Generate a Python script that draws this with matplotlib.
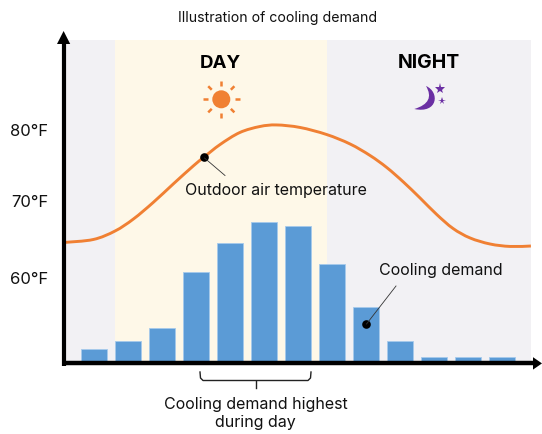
import matplotlib
matplotlib.use("Agg")
import matplotlib.pyplot as plt
from matplotlib.lines import Line2D
from matplotlib.patches import PathPatch, Circle
from matplotlib.path import Path
from matplotlib.transforms import Affine2D

plt.rcParams['font.family'] = ['Inter', 'DejaVu Sans']

# ---- data ----
bar_slots = [0, 1, 2, 3, 4, 5, 6, 7, 8, 9, 10, 11, 12]
cooling_demand = [12, 20, 33, 89, 118, 139, 135, 97, 54, 20, 4, 4, 4]
temp_slots = [-0.88, -0.02, 0.62, 1.16, 1.74, 2.33, 2.92, 3.24, 3.71, 4.29, 4.88, 5.37,
              6.06, 6.84, 7.53, 8.12, 8.61, 9.10, 9.59, 10.08, 10.56, 11.06, 11.65, 12.24, 12.85]
temperature = [64.80, 65.20, 66.35, 67.97, 70.20, 72.70, 75.14, 76.35, 78.04, 79.66, 80.47, 80.68,
               80.34, 79.39, 78.11, 76.55, 74.93, 72.97, 70.81, 68.58, 66.69, 65.41, 64.59, 64.26, 64.32]
ytick_values = [60, 70.4, 80]
ytick_labels = ['60°F', '70°F', '80°F']
day_span = (0.62, 6.85)
temp_marker = (3.24, 76.35)
demand_marker = (8.0, 37)

ORANGE = '#F08033'
BLUE = '#5B9BD6'
PURPLE = '#6B2FA3'
TEXT = '#111111'

fig = plt.figure(figsize=(5.42, 4.34), dpi=100)
pix = Affine2D().scale(1, -1).translate(0, 434)

ax = fig.add_axes([64/542, (434-361)/434, (531-64)/542, (361-40)/434])
ax.set_facecolor('#F2F1F4')
ax.set_xlim(-0.882, 12.853)
ax.set_ylim(48.78, 92.16)
ax.axvspan(*day_span, color='#FEF8E8', lw=0, zorder=0)
for s in ax.spines.values():
    s.set_visible(False)
ax.set_xticks([])
ax.set_yticks(ytick_values, ytick_labels)
ax.tick_params(axis='y', length=0, pad=11.5, labelsize=12, labelcolor=TEXT)

# smooth curve through the read points (Catmull-Rom segments as Bezier)
verts = [(temp_slots[0], temperature[0])]
codes = [Path.MOVETO]
n = len(temp_slots)
for i in range(n-1):
    p0 = (temp_slots[max(i-1, 0)], temperature[max(i-1, 0)])
    p1 = (temp_slots[i], temperature[i])
    p2 = (temp_slots[i+1], temperature[i+1])
    p3 = (temp_slots[min(i+2, n-1)], temperature[min(i+2, n-1)])
    c1 = (p1[0]+(p2[0]-p0[0])/6, p1[1]+(p2[1]-p0[1])/6)
    c2 = (p2[0]-(p3[0]-p1[0])/6, p2[1]-(p3[1]-p1[1])/6)
    verts += [c1, c2, p2]
    codes += [Path.CURVE4]*3
ax.add_patch(PathPatch(Path(verts, codes), fc='none', ec=ORANGE, lw=2.1, zorder=3, capstyle='butt'))
ax.plot(*temp_marker, 'o', color='black', ms=6.2, zorder=5, mew=0)

ax2 = ax.twinx()
ax2.set_ylim(0, 321)
ax2.set_yticks([])
for s in ax2.spines.values():
    s.set_visible(False)
ax2.bar(bar_slots, cooling_demand, width=0.76, color=BLUE, edgecolor='#A6CAEC', linewidth=0.6, zorder=2)
ax2.plot(*demand_marker, 'o', color='black', ms=6.2, zorder=5, mew=0)


def line(xs, ys, color='#333333', lw=0.6, **kw):
    fig.add_artist(Line2D(xs, ys, transform=pix, color=color, lw=lw, **kw))


def txt(x, y, s, size=11.5, weight='normal', **kw):
    fig.text(x, y, s, transform=pix, ha='center', va='center', fontsize=size,
             fontweight=weight, color=kw.pop('color', TEXT), **kw)


# leader lines
line([204.5, 225], [158, 175.5])
line([366.5, 396], [324, 286])

# axis arrows
line([63.6, 63.6], [44, 365.5], color='black', lw=3.0, solid_capstyle='butt')
line([61.5, 535], [363.4, 363.4], color='black', lw=3.2, solid_capstyle='butt')
fig.add_artist(PathPatch(Path([(63.6, 31), (70.2, 44), (57, 44), (63.6, 31)]), fc='black', ec='none', transform=pix))
fig.add_artist(PathPatch(Path([(542, 363.4), (533, 369.6), (533, 357.2), (542, 363.4)]), fc='black', ec='none', transform=pix))

# bracket
line([200, 200.5, 203, 308, 310.5, 311], [372, 378, 380.5, 380.5, 378, 372], color='#222222', lw=1.0)
line([255.7, 255.7], [380.5, 388], color='#222222', lw=1.0)

# texts
txt(277.5, 18, 'Illustration of cooling demand', size=10.2)
txt(220.5, 63, 'DAY', size=13.5, weight='bold', color='black')
txt(429, 63, 'NIGHT', size=14, weight='bold', color='black')
txt(276, 191, 'Outdoor air temperature')
txt(440.5, 271, 'Cooling demand')
txt(255.5, 404, 'Cooling demand highest')
txt(255.5, 423, 'during day')

# sun icon
sun_c = (221.3, 99.3)
fig.add_artist(Circle(sun_c, 9, fc=ORANGE, ec='none', transform=pix))
for dx, dy in [(1, 0), (-1, 0), (0, 1), (0, -1), (.707, .707), (-.707, .707), (.707, -.707), (-.707, -.707)]:
    line([sun_c[0]+13.5*dx, sun_c[0]+18.5*dx], [sun_c[1]+13.5*dy, sun_c[1]+18.5*dy],
         color=ORANGE, lw=1.8, solid_capstyle='butt')

# moon icon
moon = Path([(426, 86), (440, 92), (438, 114), (414.3, 109), (435.8, 102.5), (426, 86), (426, 86)],
            [Path.MOVETO, Path.CURVE4, Path.CURVE4, Path.CURVE4, Path.CURVE3, Path.CURVE3, Path.CLOSEPOLY])
fig.add_artist(PathPatch(moon, fc=PURPLE, ec='none', transform=pix))
line([440], [88.7], color=PURPLE, marker='*', ms=8, mew=0, ls='none')
line([441.7], [101.3], color=PURPLE, marker='*', ms=5.5, mew=0, ls='none')

fig.savefig('out.png', dpi=100)
